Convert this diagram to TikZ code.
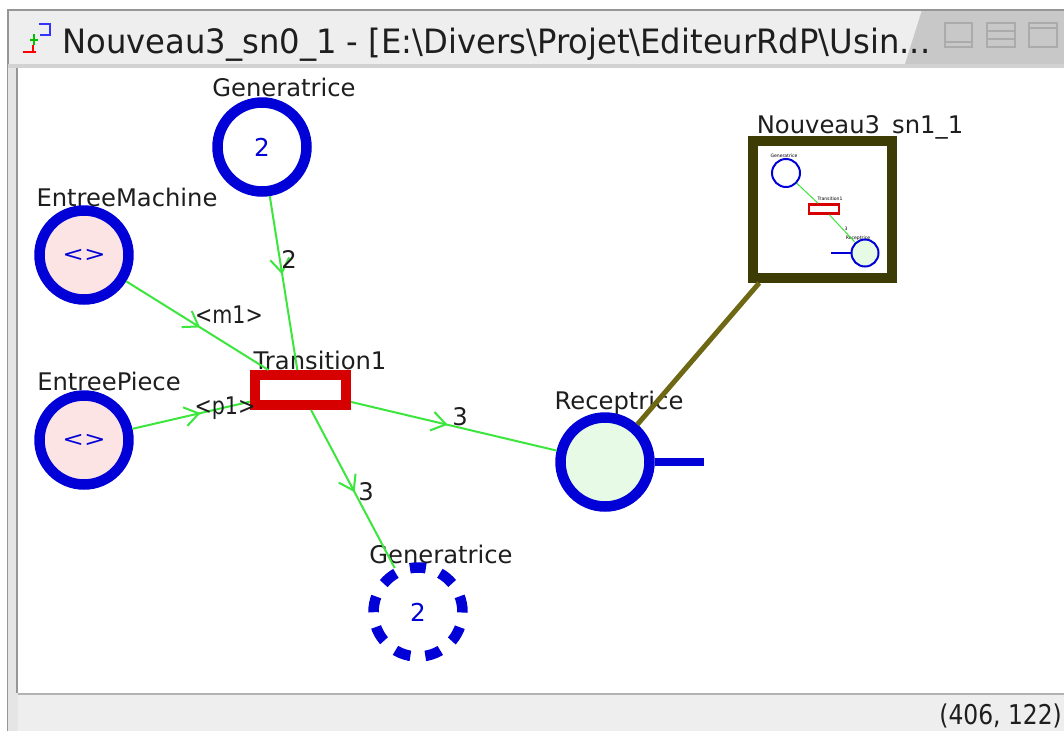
\documentclass[tikz,border=0pt]{standalone}
\usepackage{fontspec}
\setmainfont{DejaVu Sans}
\usetikzlibrary{arrows.meta,decorations.markings}
\definecolor{netblue}{RGB}{0,0,215}
\definecolor{netgreen}{RGB}{60,230,60}
\definecolor{netred}{RGB}{215,0,0}
\definecolor{pinkfill}{RGB}{252,228,228}
\definecolor{greenfill}{RGB}{230,250,230}
\definecolor{linkolive}{RGB}{110,104,20}
\definecolor{boxolive}{RGB}{62,60,5}
\definecolor{barlight}{RGB}{238,238,238}
\definecolor{bardark}{RGB}{200,200,200}
\definecolor{framegrey}{RGB}{150,150,150}
\definecolor{textgrey}{RGB}{30,30,30}
\tikzset{
 place/.style={circle, draw=netblue, line width=0.21cm, minimum size=1.78cm, inner sep=0pt, fill=white, text=netblue, font=\fontsize{14}{16}\selectfont},
 trans/.style={rectangle, draw=netred, line width=0.2cm, minimum width=1.82cm, minimum height=0.6cm, inner sep=0pt, fill=white},
 lbl/.style={inner sep=0pt, text=textgrey, font=\fontsize{13.8}{16}\selectfont},
 arc/.style={draw=netgreen, line width=0.04cm, decoration={markings, mark=at position #1 with {\arrow{Straight Barb[length=0.28cm,width=0.38cm]}}}, postaction={decorate}},
 minilbl/.style={inner sep=0pt, text=black, font=\fontsize{2.6}{3}\selectfont},
 winicon/.style={draw=framegrey!80, line width=0.05cm},
}
\begin{document}
\begin{tikzpicture}[x=0.02cm,y=-0.02cm]
\useasboundingbox (0,0) rectangle (1064,731);
% window chrome
\fill[white] (0,0) rectangle (1064,731);
\fill[barlight] (8,10) rectangle (1064,64);
\fill[bardark] (922,10) -- (1064,10) -- (1064,64) -- (905,64) -- cycle;
\draw[framegrey, line width=0.04cm] (8,731) -- (8,10) -- (1064,10);
\fill[gray!35] (8,64) rectangle (1064,68);
\fill[gray!20] (8,68) rectangle (18,731);
\draw[framegrey, line width=0.03cm] (17,68) -- (17,693);
\fill[white] (18,68) rectangle (1064,693);
\fill[barlight] (18,694) rectangle (1064,731);
\draw[gray!60, line width=0.04cm] (18,694) -- (1064,694);
% window icon
\draw[red, line width=0.05cm] (23,52) -- (36,52) (33,45) -- (33,52);
\draw[green!75!black, line width=0.05cm] (30,40) -- (38,40) (34,34) -- (34,45);
\draw[blue!80, line width=0.05cm] (39,24) -- (50,24) -- (50,35) -- (40,35);
% title
\node[anchor=base west, inner sep=0pt, text=textgrey] (title) at (62,53) {\resizebox{17.36cm}{0.51cm}{Nouveau3\_sn0\_1 - [E:\textbackslash Divers\textbackslash Projet\textbackslash EditeurRdP\textbackslash Usin...}};
% title buttons
\draw[winicon] (945,23) rectangle (972,47) (945,42) -- (972,42);
\draw[winicon] (987,23) rectangle (1015,47) (987,31) -- (1015,31) (987,39) -- (1015,39);
\draw[winicon] (1029,23) rectangle (1057,47) (1029,28) -- (1057,28);
% status text
\node[anchor=base west, inner sep=0pt, text=textgrey] (status) at (939,724) {\scalebox{0.86}[1]{\fontsize{15.5}{18}\selectfont (406, 122)}};

% node labels
\node[lbl] (lgen1) at (284,87) {Generatrice};
\node[lbl] (lmach) at (127,197) {EntreeMachine};
\node[lbl] (lpiece) at (109,381) {EntreePiece};
\node[lbl] (ltrans) at (320,360) {Transition1};
\node[lbl] (lrec) at (619,403) {Receptrice};
\node[lbl] (lgen2) at (441,554) {Generatrice};
\node[lbl] (lsub) at (860,127) {Nouveau3\_sn1\_1};

% places and transition
\node[place] (gen1) at (262,147) {2};
\node[place, fill=pinkfill] (emach) at (84,255) {\scalebox{1.05}[0.85]{<>}};
\node[place, fill=pinkfill] (epiece) at (84,440) {\scalebox{1.05}[0.85]{<>}};
\node[trans] (t1) at (300.5,390) {};
\node[place, fill=greenfill] (rec) at (605,462) {};
\draw[netblue, line width=0.16cm] (rec.east) -- (704,462);
\node[place, dash pattern=on 0.32cm off 0.3cm] (gen2) at (418,612) {2};

% subnet box
\node[rectangle, draw=boxolive, line width=0.2cm, minimum width=2.78cm, minimum height=2.74cm, inner sep=0pt, fill=white] (sub) at (822.5,209.5) {};
\node[minilbl] (mlg) at (784,156) {Generatrice};
\node[minilbl] (mlt) at (830,199) {Transition1};
\node[minilbl] (mlr) at (858,238) {Receptrice};
\node[minilbl] (mlw) at (846,229) {3};
\node[circle, draw=netblue, line width=0.04cm, minimum size=0.56cm, inner sep=0pt] (mg) at (786,173) {};
\node[rectangle, draw=netred, line width=0.05cm, minimum width=0.6cm, minimum height=0.18cm, inner sep=0pt, fill=white] (mt) at (824,209) {};
\node[circle, draw=netblue, line width=0.04cm, fill=greenfill, minimum size=0.54cm, inner sep=0pt] (mr) at (865,253) {};
\draw[netblue, line width=0.04cm] (mr.west) -- (831,253);
\draw[netgreen, line width=0.02cm] (mg) -- (mt);
\draw[netgreen, line width=0.02cm] (mt) -- (mr);

% link to subnet
\draw[linkolive, line width=0.1cm] (rec) -- (sub);

% arcs
\draw[arc=0.45] (gen1) -- (t1);
\draw[arc=0.52] (emach) -- (t1);
\draw[arc=0.58] (epiece) -- (t1);
\draw[arc=0.47] (t1) -- (rec);
\draw[arc=0.52] (t1) -- (gen2);

% arc labels
\node[lbl] (w1) at (289,259) {2};
\node[lbl] (wm) at (229,315) {\scalebox{0.85}[1]{<m1>}};
\node[lbl] (wp) at (225,408) {\scalebox{0.85}[1]{<p1>}};
\node[lbl] (w3a) at (460,417) {3};
\node[lbl] (w3b) at (366,492) {3};
\end{tikzpicture}
\end{document}
